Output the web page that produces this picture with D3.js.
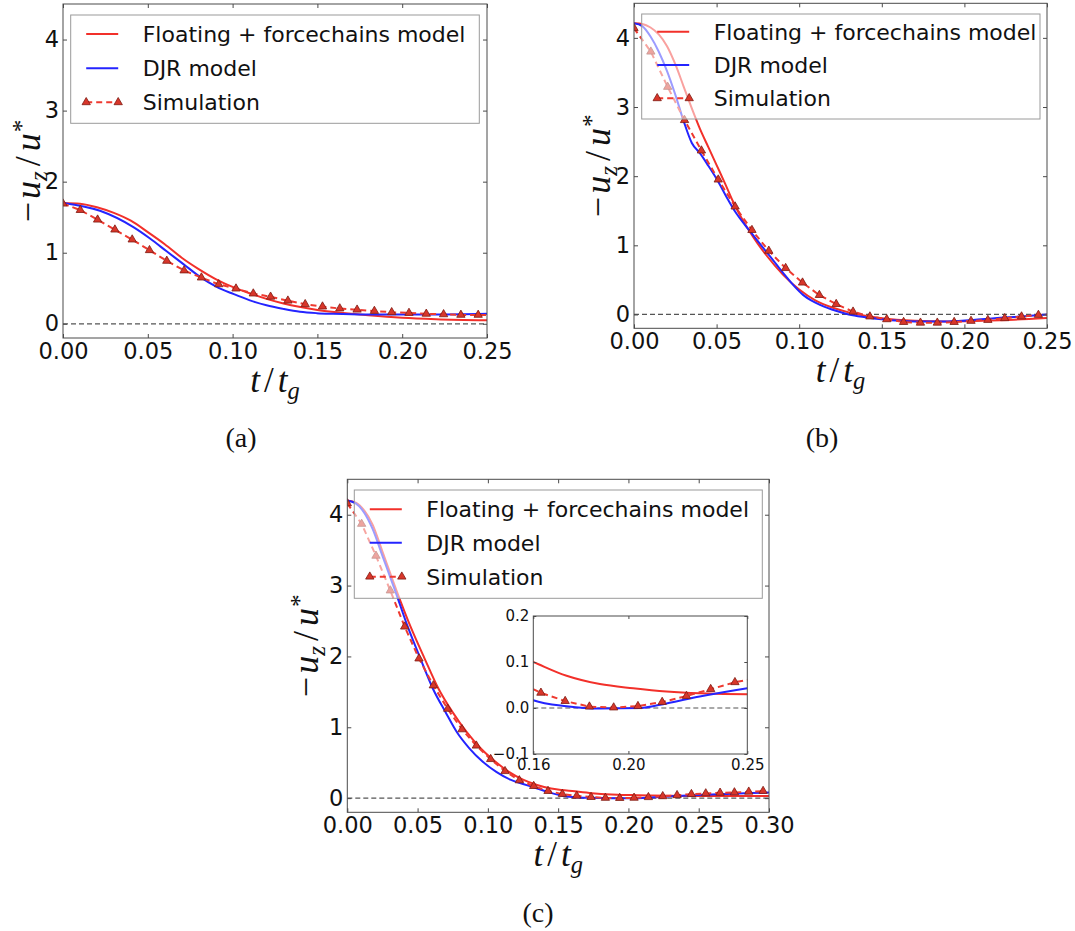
<!DOCTYPE html>
<html>
<head>
<meta charset="utf-8">
<script src="https://cdn.jsdelivr.net/npm/d3@7"></script>
<style>
  body { margin: 0; background: #fff; }
</style>
</head>
<body>
<svg id="fig" width="1075" height="931"></svg>
<script>
// ---------------- data ----------------
const seriesNames = ["Floating + forcechains model", "DJR model", "Simulation"];
const captions = ["(a)", "(b)", "(c)"];

const xTicksAB = [0, 0.05, 0.10, 0.15, 0.20, 0.25];
const xTicksC = [0, 0.05, 0.10, 0.15, 0.20, 0.25, 0.30];
const yTicks = [0, 1, 2, 3, 4];
const insetXTicks = [0.16, 0.20, 0.25];
const insetYTicks = [-0.1, 0.0, 0.1, 0.2];

// sampling instants of the simulation (t / t_g)
const simT = [0, 0.0102, 0.0204, 0.0306, 0.0408, 0.051, 0.0612, 0.0714, 0.0816, 0.0918,
              0.102, 0.1122, 0.1224, 0.1326, 0.1428, 0.153, 0.1632, 0.1734, 0.1836, 0.1938,
              0.204, 0.2142, 0.2244, 0.2346, 0.2448, 0.255, 0.2652, 0.2754, 0.2856, 0.2958];

// (a)
const aSim = [1.69, 1.60, 1.465, 1.325, 1.185, 1.035, 0.885, 0.75, 0.65, 0.555,
              0.495, 0.425, 0.38, 0.325, 0.275, 0.242, 0.215, 0.198, 0.18, 0.162,
              0.152, 0.14, 0.133, 0.125, 0.125, 0.12];
const aFloatT = [0, 0.01, 0.02, 0.03, 0.04, 0.05, 0.06, 0.07, 0.08, 0.09, 0.10, 0.11, 0.12,
                 0.13, 0.14, 0.15, 0.16, 0.18, 0.20, 0.22, 0.25];
const aFloatV = [1.70, 1.69, 1.64, 1.56, 1.45, 1.29, 1.12, 0.93, 0.77, 0.63, 0.52, 0.43, 0.35,
                 0.285, 0.235, 0.195, 0.165, 0.12, 0.085, 0.065, 0.05];
const aDjrT = [0, 0.0218, 0.0415, 0.0513, 0.0611, 0.071, 0.0808, 0.0906, 0.1004, 0.1102,
               0.12, 0.1299, 0.1397, 0.1495, 0.1593, 0.179, 0.1986, 0.2183, 0.25];
const aDjrV = [1.70, 1.59, 1.36, 1.20, 1.02, 0.84, 0.66, 0.52, 0.42, 0.33,
               0.26, 0.21, 0.17, 0.15, 0.14, 0.13, 0.13, 0.13, 0.14];

// (b)
const bSim = [4.14, 3.80, 3.29, 2.81, 2.37, 1.95, 1.56, 1.22, 0.92, 0.67,
              0.46, 0.28, 0.15, 0.04, -0.03, -0.07, -0.11, -0.12, -0.12, -0.11,
              -0.094, -0.08, -0.055, -0.03, -0.007, 0.0];
const bFloatT = [0, 0.005, 0.01, 0.015, 0.02, 0.025, 0.03, 0.035, 0.04, 0.045, 0.05, 0.055,
                 0.06, 0.065, 0.07, 0.075, 0.08, 0.09, 0.10, 0.11, 0.12, 0.13, 0.14, 0.15,
                 0.17, 0.19, 0.21, 0.23, 0.25];
const bFloatV = [4.21, 4.20, 4.15, 4.05, 3.88, 3.62, 3.30, 2.98, 2.68, 2.42, 2.16, 1.90,
                 1.63, 1.40, 1.20, 1.02, 0.86, 0.58, 0.36, 0.20, 0.10, 0.03, -0.02, -0.055,
                 -0.09, -0.10, -0.09, -0.075, -0.05];
const bDjrT = [0, 0.005, 0.01, 0.015, 0.02, 0.025, 0.03, 0.035, 0.04, 0.045, 0.051, 0.056,
               0.062, 0.067, 0.072, 0.077, 0.082, 0.087, 0.092, 0.097, 0.1025, 0.1075, 0.1126,
               0.1227, 0.13, 0.14, 0.15, 0.17, 0.19, 0.21, 0.22, 0.24, 0.25];
const bDjrV = [4.21, 4.17, 4.02, 3.80, 3.52, 3.18, 2.80, 2.48, 2.33, 2.15, 1.92, 1.70,
               1.46, 1.30, 1.15, 1.00, 0.85, 0.70, 0.55, 0.41, 0.28, 0.20, 0.14,
               0.05, 0.0, -0.04, -0.07, -0.10, -0.10, -0.07, -0.05, -0.02, 0.0];

// (c)
const cSim = [4.16, 3.87, 3.42, 2.93, 2.42, 1.97, 1.59, 1.26, 0.97, 0.74,
              0.55, 0.38, 0.25, 0.17, 0.10, 0.058, 0.033, 0.015, 0.003, 0.001,
              0.004, 0.013, 0.026, 0.041, 0.056, 0.066, 0.075, 0.08, 0.09, 0.10];
const cFloatT = [0, 0.006, 0.012, 0.018, 0.025, 0.035, 0.045, 0.055, 0.065, 0.075, 0.085,
                 0.095, 0.105, 0.115, 0.125, 0.135, 0.145, 0.153, 0.16, 0.174, 0.188, 0.202,
                 0.216, 0.23, 0.25, 0.30];
const cFloatV = [4.20, 4.17, 4.06, 3.86, 3.48, 2.93, 2.42, 1.97, 1.54, 1.21, 0.93,
                 0.70, 0.52, 0.37, 0.26, 0.185, 0.135, 0.115, 0.10, 0.07, 0.052, 0.043,
                 0.036, 0.032, 0.030, 0.030];
const cDjrT = [0, 0.006, 0.012, 0.018, 0.025, 0.034, 0.043, 0.052, 0.061, 0.070, 0.078,
               0.087, 0.096, 0.106, 0.116, 0.125, 0.133, 0.143, 0.153, 0.16, 0.174, 0.188,
               0.205, 0.216, 0.23, 0.25, 0.27, 0.30];
const cDjrV = [4.20, 4.16, 4.03, 3.80, 3.42, 2.93, 2.42, 1.97, 1.54, 1.21, 0.93,
               0.70, 0.52, 0.37, 0.26, 0.20, 0.15, 0.085, 0.035, 0.017, 0.004, -0.001,
               0.0, 0.010, 0.025, 0.043, 0.058, 0.08];

// ---------------- styling ----------------
const RED = "#f2302a";
const BLUE = "#2424ff";
const SIM_RED = "#ee3a30";
const MARK_FILL = "#d8362a";
const MARK_EDGE = "#7d1a12";
const FRAME = "#4a4a4a";
const SANS = "'DejaVu Sans', sans-serif";
const SERIF = "'Liberation Serif', 'Times New Roman', serif";
const TICK_FONT = 22.5;
const LEGEND_FONT = 22;

const svg = d3.select("#fig");
svg.append("rect").attr("width", 1075).attr("height", 931).attr("fill", "#fff");
const defs = svg.append("defs");

const panels = [
  { id: "a", x0: 63, x1: 487, yTop: 4, yBot: 338, xmax: 0.25, xTicks: xTicksAB,
    sim: aSim, fT: aFloatT, fV: aFloatV, dT: aDjrT, dV: aDjrV,
    legend: { x: 70.7, y: 15, w: 408.6, h: 108.3, rows: [34, 68.3, 102.3] },
    ylabX: 40, cap: { x: 241, y: 447, text: captions[0] } },
  { id: "b", x0: 634, x1: 1047, yTop: 3.3, yBot: 328.3, xmax: 0.25, xTicks: xTicksAB,
    sim: bSim, fT: bFloatT, fV: bFloatV, dT: bDjrT, dV: bDjrV,
    legend: { x: 641.7, y: 14, w: 398.3, h: 105, rows: [31.7, 65, 98.3] },
    ylabX: 610, cap: { x: 822, y: 447, text: captions[1] } },
  { id: "c", x0: 347.3, x1: 769, yTop: 479.3, yBot: 812.3, xmax: 0.30, xTicks: xTicksC,
    sim: cSim, fT: cFloatT, fV: cFloatV, dT: cDjrT, dV: cDjrV,
    legend: { x: 354.3, y: 490, w: 408, h: 108.3, rows: [509.3, 542.7, 576.7] },
    ylabX: 318, cap: { x: 538, y: 922, text: captions[2] },
    inset: { x0: 533.3, x1: 747.3, yTop: 616, yBot: 754 } }
];

const triangle = d3.symbol().type(d3.symbolTriangle).size(30);

function drawSeries(layer, x, y, p, tLimit) {
  const smooth = d3.line().x(d => x(d[0])).y(d => y(d[1])).curve(d3.curveMonotoneX);
  const straight = d3.line().x(d => x(d[0])).y(d => y(d[1]));
  layer.append("path").datum(d3.zip(p.fT, p.fV))
    .attr("d", smooth).attr("fill", "none").attr("stroke", RED).attr("stroke-width", 2);
  layer.append("path").datum(d3.zip(p.dT, p.dV))
    .attr("d", smooth).attr("fill", "none").attr("stroke", BLUE).attr("stroke-width", 2);
  const simPts = d3.zip(simT.slice(0, p.sim.length), p.sim);
  layer.append("path").datum(simPts)
    .attr("d", straight).attr("fill", "none").attr("stroke", SIM_RED)
    .attr("stroke-width", 2).attr("stroke-dasharray", "6,4");
  layer.selectAll("path.mk").data(simPts.filter(d => d[0] <= tLimit)).join("path")
    .attr("class", "mk").attr("d", triangle)
    .attr("transform", d => `translate(${x(d[0])},${y(d[1])})`)
    .attr("fill", MARK_FILL).attr("stroke", MARK_EDGE).attr("stroke-width", 0.8);
}

function styleAxis(g, size) {
  g.select(".domain").remove();
  g.selectAll("line").attr("stroke", FRAME);
  g.selectAll("text").attr("font-size", size).attr("fill", "#111")
    .style("font-family", SANS);
}

function frameAxes(g, x, y, box, xt, yt, fmtX, fmtY, tick, pad, fontSize) {
  g.append("g").attr("transform", `translate(0,${box.yBot})`)
    .call(d3.axisBottom(x).tickValues(xt).tickFormat(fmtX).tickSizeInner(-tick).tickSizeOuter(0).tickPadding(pad))
    .call(s => styleAxis(s, fontSize));
  g.append("g").attr("transform", `translate(0,${box.yTop})`)
    .call(d3.axisTop(x).tickValues(xt).tickFormat(() => "").tickSizeInner(-tick).tickSizeOuter(0))
    .call(s => styleAxis(s, fontSize));
  g.append("g").attr("transform", `translate(${box.x0},0)`)
    .call(d3.axisLeft(y).tickValues(yt).tickFormat(fmtY).tickSizeInner(-tick).tickSizeOuter(0).tickPadding(pad - 1))
    .call(s => styleAxis(s, fontSize));
  g.append("g").attr("transform", `translate(${box.x1},0)`)
    .call(d3.axisRight(y).tickValues(yt).tickFormat(() => "").tickSizeInner(-tick).tickSizeOuter(0))
    .call(s => styleAxis(s, fontSize));
  g.append("rect").attr("x", box.x0).attr("y", box.yTop)
    .attr("width", box.x1 - box.x0).attr("height", box.yBot - box.yTop)
    .attr("fill", "none").attr("stroke", FRAME).attr("stroke-width", 1);
}

function addMathText(g, parts, size) {
  const small = size * 0.7;
  parts.forEach(pt => {
    g.append("tspan").text(pt.t)
      .style("font-style", pt.it ? "italic" : "normal")
      .attr("font-size", pt.small ? small : size)
      .attr("dx", pt.dx || 0).attr("dy", pt.dy || 0);
  });
}

panels.forEach(p => {
  const x = d3.scaleLinear().domain([0, p.xmax]).range([p.x0, p.x1]);
  const y = d3.scaleLinear().domain([-0.2, 4.5]).range([p.yBot, p.yTop]);
  const g = svg.append("g");

  defs.append("clipPath").attr("id", "clip-" + p.id).append("rect")
    .attr("x", p.x0).attr("y", p.yTop).attr("width", p.x1 - p.x0).attr("height", p.yBot - p.yTop);
  const plot = g.append("g").attr("clip-path", `url(#clip-${p.id})`);

  plot.append("line").attr("x1", p.x0).attr("x2", p.x1).attr("y1", y(0)).attr("y2", y(0))
    .attr("stroke", "#555").attr("stroke-width", 1.2).attr("stroke-dasharray", "5,3");
  drawSeries(plot, x, y, p, p.xmax + 0.001);

  frameAxes(g, x, y, p, p.xTicks, yTicks, d3.format(".2f"), d3.format("d"), 4, 5, TICK_FONT);

  // legend
  const L = p.legend;
  const lg = g.append("g");
  lg.append("rect").attr("x", L.x).attr("y", L.y).attr("width", L.w).attr("height", L.h)
    .attr("fill", "#fff").attr("fill-opacity", 0.55).attr("stroke", "#9a9a9a").attr("stroke-width", 1);
  const lx0 = L.x + 15.5, lx1 = L.x + 47.5, tx = L.x + 72;
  const colors = [RED, BLUE];
  L.rows.forEach((ry, i) => {
    if (i < 2) {
      lg.append("line").attr("x1", lx0).attr("x2", lx1).attr("y1", ry).attr("y2", ry)
        .attr("stroke", colors[i]).attr("stroke-width", 2);
    } else {
      lg.append("line").attr("x1", lx0).attr("x2", lx1).attr("y1", ry).attr("y2", ry)
        .attr("stroke", SIM_RED).attr("stroke-width", 2).attr("stroke-dasharray", "6,4");
      [lx0, lx1].forEach(mx => lg.append("path").attr("d", triangle)
        .attr("transform", `translate(${mx},${ry})`)
        .attr("fill", MARK_FILL).attr("stroke", MARK_EDGE).attr("stroke-width", 0.8));
    }
    lg.append("text").attr("x", tx).attr("y", ry + 8).attr("font-size", LEGEND_FONT)
      .style("font-family", SANS).attr("fill", "#111").text(seriesNames[i]);
  });

  // axis titles
  const cy = (p.yTop + p.yBot) / 2;
  const yl = g.append("text").attr("transform", `translate(${p.ylabX},${cy}) rotate(-90)`)
    .attr("text-anchor", "middle").style("font-family", SERIF).attr("fill", "#111");
  addMathText(yl, [
    { t: "\u2212" }, { t: "u", it: true, dx: 3 }, { t: "z", it: true, small: true, dy: 7 },
    { t: "/", dx: 5, dy: -7 }, { t: "u", it: true, dx: 5 }, { t: "*", small: true, dy: -10, dx: 1 }
  ], 36);
  const xl = g.append("text").attr("x", (p.x0 + p.x1) / 2).attr("y", p.yBot + 54)
    .attr("text-anchor", "middle").style("font-family", SERIF).attr("fill", "#111");
  addMathText(xl, [
    { t: "t", it: true }, { t: "/", dx: 4 }, { t: "t", it: true, dx: 4 },
    { t: "g", it: true, small: true, dy: 7 }
  ], 35);

  // caption
  svg.append("text").attr("x", p.cap.x).attr("y", p.cap.y).attr("text-anchor", "middle")
    .style("font-family", SERIF).attr("font-size", 28).attr("fill", "#111")
    .text(p.cap.text);

  // inset zoom on the tail of the response
  if (p.inset) {
    const I = p.inset;
    const xi = d3.scaleLinear().domain([0.16, 0.25]).range([I.x0, I.x1]);
    const yi = d3.scaleLinear().domain([-0.1, 0.2]).range([I.yBot, I.yTop]);
    const ig = g.append("g");
    ig.append("rect").attr("x", I.x0).attr("y", I.yTop).attr("width", I.x1 - I.x0)
      .attr("height", I.yBot - I.yTop).attr("fill", "#fff");
    defs.append("clipPath").attr("id", "clip-inset").append("rect")
      .attr("x", I.x0).attr("y", I.yTop).attr("width", I.x1 - I.x0).attr("height", I.yBot - I.yTop);
    const ip = ig.append("g").attr("clip-path", "url(#clip-inset)");
    ip.append("line").attr("x1", I.x0).attr("x2", I.x1).attr("y1", yi(0)).attr("y2", yi(0))
      .attr("stroke", "#555").attr("stroke-width", 1.1).attr("stroke-dasharray", "5,3");
    drawSeries(ip, xi, yi, p, 0.25);
    frameAxes(ig, xi, yi, I, insetXTicks, insetYTicks, d3.format(".2f"), d3.format(".1f"), 3, 5, 15);
  }
});
</script>
</body>
</html>
